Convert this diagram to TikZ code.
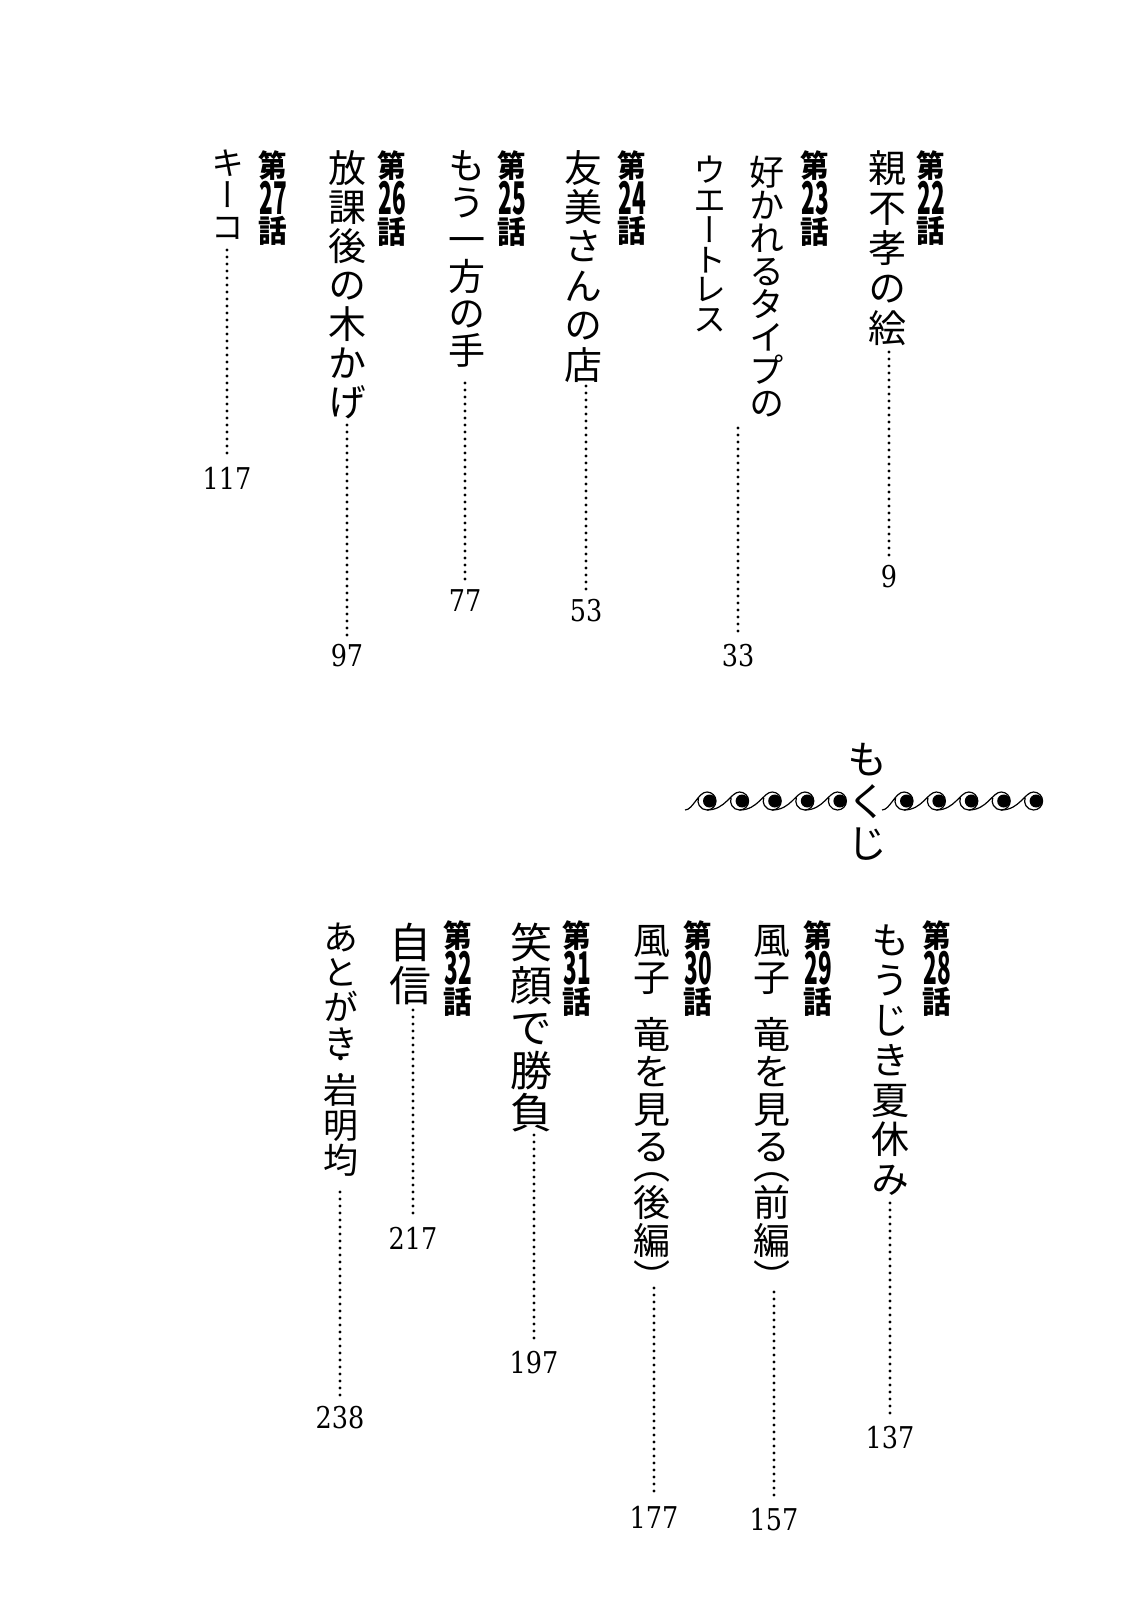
\documentclass[tikz,border=0pt]{standalone}
\usepackage{fontspec}
\usepackage{graphicx}
\newfontfamily\jpv{Noto Sans CJK JP}[RawFeature=+vert]
\newfontfamily\jpb{Noto Sans CJK JP}
\newfontfamily\numf{DejaVu Serif}
\newcommand\chapno[1]{\vbox{\offinterlineskip\halign{\hfil##\hfil\cr
  \scalebox{0.92}[1]{\fontsize{31}{31}\selectfont 第}\cr\noalign{\kern1.5pt}
  \scalebox{0.5}[1]{\fontsize{45}{45}\selectfont #1}\cr\noalign{\kern1.5pt}
  \scalebox{0.92}[1]{\fontsize{31}{31}\selectfont 話}\cr}}}
\tikzset{
  ttl/.style 2 args={anchor=north, inner sep=0pt, align=center,
    font={\jpv\fontsize{#1}{#2}\selectfont\lineskiplimit=-1000pt\relax}},
  chap/.style={anchor=north, inner sep=0pt, font=\jpb\bfseries},
  pnum/.style={inner sep=0pt, font=\numf\fontsize{30}{30}\selectfont},
  leader/.style={line width=3.2pt, line cap=round, dash pattern=on 0pt off 7pt},
  wave/.style={line width=1.2pt}
}
\begin{document}
\begin{tikzpicture}[x=1pt,y=-1pt]
\fill[white] (0,0) rectangle (1121,1600);
\useasboundingbox (0,0) rectangle (1121,1600);

% ---------- upper half ----------
\node[chap] (L22) at (931,150) {\chapno{22}};
\node[ttl={38}{40}] (t22) at (887,150) {親\\不\\孝\\の\\絵};
\node[pnum] (p9) at (889,577) {\scalebox{0.85}[1]{9}};
\coordinate (d22) at (889,352);
\draw[leader] (d22) -- ([yshift=8pt]p9.north);

\node[chap] (L23) at (815,150) {\chapno{23}};
\node[ttl={35}{33}] (t23a) at (767,156) {好\\か\\れ\\る\\タ\\イ\\プ\\の};
\node[ttl={33}{29.8}] (t23b) at (710,156) {ウ\\エ\\ー\\ト\\レ\\ス};
\node[pnum] (p33) at (738,656) {\scalebox{0.85}[1]{33}};
\coordinate (d23) at (738,428);
\draw[leader] (d23) -- ([yshift=8pt]p33.north);

\node[chap] (L24) at (632,150) {\chapno{24}};
\node[ttl={38}{39.4}] (t24) at (583,150) {友\\美\\さ\\ん\\の\\店};
\node[pnum] (p53) at (586,611) {\scalebox{0.85}[1]{53}};
\coordinate (d24) at (586,386);
\draw[leader] (d24) -- ([yshift=8pt]p53.north);

\node[chap] (L25) at (512,150) {\chapno{25}};
\node[ttl={37}{37}] (t25) at (467,150) {も\\う\\一\\方\\の\\手};
\node[pnum] (p77) at (465,601) {\scalebox{0.85}[1]{77}};
\coordinate (d25) at (465,383);
\draw[leader] (d25) -- ([yshift=8pt]p77.north);

\node[chap] (L26) at (392,150) {\chapno{26}};
\node[ttl={38}{39}] (t26) at (347,150) {放\\課\\後\\の\\木\\か\\げ};
\node[pnum] (p97) at (347,656) {\scalebox{0.85}[1]{97}};
\coordinate (d26) at (347,425);
\draw[leader] (d26) -- ([yshift=8pt]p97.north);

\node[chap] (L27) at (273,150) {\chapno{27}};
\node[ttl={33}{32}] (t27) at (228,150) {キ\\ー\\コ};
\node[pnum] (p117) at (227,478) {\scalebox{0.85}[1]{117}};
\coordinate (d27) at (227,250);
\draw[leader] (d27) -- ([yshift=8pt]p117.north);

% ---------- title ----------
\node[ttl={40}{42}] (mk) at (867,743) {も\\く\\じ};
\begin{scope}[shift={(0,801)}, yscale=-1]
  \foreach \i in {0,...,4}{
    \pgfmathsetmacro\cx{707+32.6*\i}
    \pgfmathsetmacro\sx{\i==0 ? \cx-22 : \cx-32.6}
    \draw[wave] (\sx,-9) .. controls (\cx-14,-9) and (\cx-9,9) .. (\cx,9)
      arc[start angle=90, end angle=-200, radius=9];
    \fill (\cx+2.5,0) circle[radius=6.5];
  }
  \foreach \i in {0,...,4}{
    \pgfmathsetmacro\cx{904+32.4*\i}
    \pgfmathsetmacro\sx{\i==0 ? \cx-22 : \cx-32.4}
    \draw[wave] (\sx,-9) .. controls (\cx-14,-9) and (\cx-9,9) .. (\cx,9)
      arc[start angle=90, end angle=-200, radius=9];
    \fill (\cx+2.5,0) circle[radius=6.5];
  }
\end{scope}

% ---------- lower half ----------
\node[chap] (L28) at (937,920) {\chapno{28}};
\node[ttl={38}{39.8}] (t28) at (890,925) {も\\う\\じ\\き\\夏\\休\\み};
\node[pnum] (p137) at (890,1438) {\scalebox{0.85}[1]{137}};
\coordinate (d28) at (890,1203);
\draw[leader] (d28) -- ([yshift=8pt]p137.north);

\node[chap] (L29) at (818,920) {\chapno{29}};
\node[ttl={37}{37.5}] (t29) at (772,925) {風\\子\\[19pt]竜\\を\\見\\る\\[-19pt]︵\\前\\編\\︶};
\node[pnum] (p157) at (774,1520) {\scalebox{0.85}[1]{157}};
\coordinate (d29) at (774,1292);
\draw[leader] (d29) -- ([yshift=8pt]p157.north);

\node[chap] (L30) at (698,920) {\chapno{30}};
\node[ttl={37}{37.5}] (t30) at (652,925) {風\\子\\[19pt]竜\\を\\見\\る\\[-19pt]︵\\後\\編\\︶};
\node[pnum] (p177) at (654,1517) {\scalebox{0.85}[1]{177}};
\coordinate (d30) at (654,1288);
\draw[leader] (d30) -- ([yshift=8pt]p177.north);

\node[chap] (L31) at (577,920) {\chapno{31}};
\node[ttl={42}{42.5}] (t31) at (531,923) {笑\\顔\\で\\勝\\負};
\node[pnum] (p197) at (534,1363) {\scalebox{0.85}[1]{197}};
\coordinate (d31) at (534,1135);
\draw[leader] (d31) -- ([yshift=8pt]p197.north);

\node[chap] (L32) at (458,920) {\chapno{32}};
\node[ttl={42}{43}] (t32) at (410,923) {自\\信};
\node[pnum] (p217) at (413,1238) {\scalebox{0.85}[1]{217}};
\coordinate (d32) at (413,1010);
\draw[leader] (d32) -- ([yshift=8pt]p217.north);

\node[ttl={35}{35}] (t33) at (341,923) {あ\\と\\が\\き\\[-10pt]︰\\[-12pt]岩\\明\\均};
\node[pnum] (p238) at (340,1418) {\scalebox{0.85}[1]{238}};
\coordinate (d33) at (340,1192);
\draw[leader] (d33) -- ([yshift=8pt]p238.north);
\end{tikzpicture}
\end{document}
